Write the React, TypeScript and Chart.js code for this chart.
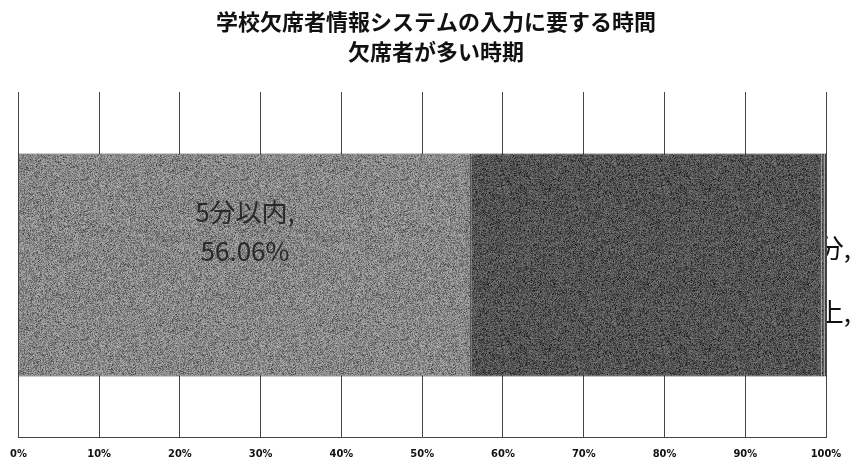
import React, { useEffect, useRef } from "react";
import { Chart, registerables } from "chart.js";

Chart.register(...registerables);

const titleLines = ["学校欠席者情報システムの入力に要する時間", "欠席者が多い時期"];
const categories = ["欠席者が多い時期"];
const seriesNames = ["5分以内", "5～10分", "10分～15分", "15分以上"];
const within5 = [56.06];
const from5to10 = [43.36];
const from10to15 = [0.38];
const over15 = [0.2];
const xTicks = [0, 10, 20, 30, 40, 50, 60, 70, 80, 90, 100];

function makeNoise(base: number, spread: number, seed: number): CanvasPattern | string {
  const c = document.createElement("canvas");
  c.width = 160;
  c.height = 160;
  const ctx = c.getContext("2d");
  if (!ctx) return `rgb(${base},${base},${base})`;
  const img = ctx.createImageData(160, 160);
  let s = seed >>> 0;
  for (let i = 0; i < 160 * 160; i++) {
    s = (s * 1664525 + 1013904223) >>> 0;
    const r = s / 4294967296;
    let v = base + (r - 0.5) * spread;
    if (r > 0.95) v = base - spread * 0.8;
    v = Math.max(0, Math.min(255, v));
    img.data[i * 4] = v;
    img.data[i * 4 + 1] = v;
    img.data[i * 4 + 2] = v;
    img.data[i * 4 + 3] = 255;
  }
  ctx.putImageData(img, 0, 0);
  const p = ctx.createPattern(c, "repeat");
  return p || `rgb(${base},${base},${base})`;
}

const labelFont = "26px 'Noto Sans CJK JP', 'Noto Sans', sans-serif";

const customText = {
  id: "customText",
  afterDatasetsDraw(chart: any) {
    const ctx = chart.ctx;
    const el = chart.getDatasetMeta(0).data[0];
    const last = chart.getDatasetMeta(3).data[0];
    if (!el || !last) return;
    const ds = chart.data.datasets[0];
    ctx.save();
    ctx.font = labelFont;
    ctx.fillStyle = "#2a2a2a";
    ctx.textBaseline = "middle";
    ctx.textAlign = "center";
    const cx = (el.base + el.x) / 2;
    ctx.fillText(`${ds.label},`, cx, el.y - 53);
    ctx.fillText(`${ds.data[0].toFixed(2)}%`, cx, el.y - 14);
    ctx.restore();

    // labels of the tiny segments: only the part beyond the bar end is visible
    const barEnd = last.x;
    ctx.save();
    ctx.beginPath();
    ctx.rect(barEnd + 1, 0, chart.width - barEnd, chart.height);
    ctx.clip();
    ctx.font = labelFont;
    ctx.fillStyle = "#111";
    ctx.textBaseline = "middle";
    ctx.textAlign = "right";
    const offsets = [[2, -17], [3, 47]];
    for (const [di, dy] of offsets) {
      const e = chart.getDatasetMeta(di).data[0];
      if (!e) continue;
      const d = chart.data.datasets[di];
      ctx.fillText(`${d.label},`, barEnd + 25, e.y + dy);
    }
    ctx.restore();
  },
  afterDraw(chart: any) {
    const ctx = chart.ctx;
    ctx.save();
    ctx.font = "bold 22px 'Noto Sans CJK JP', sans-serif";
    ctx.fillStyle = "#111";
    ctx.textAlign = "center";
    ctx.textBaseline = "middle";
    ctx.fillText(titleLines[0], 436, 22);
    ctx.fillText(titleLines[1], 436, 52);
    ctx.restore();
  },
};

export default function App() {
  const ref = useRef<HTMLCanvasElement>(null);
  useEffect(() => {
    document.body.style.margin = "0";
    const canvas = ref.current;
    if (!canvas) return;
    const light = makeNoise(138, 80, 12345);
    const dark = makeNoise(86, 70, 67890);
    const chart = new Chart(canvas, {
      type: "bar",
      data: {
        labels: categories,
        datasets: [
          { label: seriesNames[0], data: within5, backgroundColor: light as any, borderColor: "#333", borderWidth: 1 },
          { label: seriesNames[1], data: from5to10, backgroundColor: dark as any, borderColor: "#111", borderWidth: 1 },
          { label: seriesNames[2], data: from10to15, backgroundColor: dark as any, borderColor: "#111", borderWidth: 1 },
          { label: seriesNames[3], data: over15, backgroundColor: dark as any, borderColor: "#111", borderWidth: 1 },
        ],
      },
      options: {
        indexAxis: "y",
        responsive: false,
        animation: false,
        events: [],
        layout: { padding: { left: 16, right: 28, top: 92, bottom: -7 } },
        datasets: { bar: { barPercentage: 0.645, categoryPercentage: 1 } },
        plugins: {
          legend: { display: false },
          tooltip: { enabled: false },
          title: { display: false },
        },
        scales: {
          x: {
            stacked: true,
            min: 0,
            max: 100,
            afterBuildTicks: (axis: any) => {
              axis.ticks = xTicks.map((v) => ({ value: v }));
            },
            ticks: {
              callback: (v: any) => `${v}%`,
              color: "#111",
              font: { size: 11, weight: "bold", family: "'DejaVu Sans Condensed', 'Liberation Sans Narrow', 'Liberation Sans', sans-serif" },
              padding: 10,
              maxRotation: 0,
              autoSkip: false,
            },
            grid: { color: "#444", lineWidth: 1, drawTicks: false },
            border: { color: "#444", width: 1 },
          },
          y: {
            stacked: true,
            display: false,
          },
        },
      },
      plugins: [customText],
    } as any);
    return () => chart.destroy();
  }, []);
  return <canvas ref={ref} width={854} height={464} style={{ display: "block" }} />;
}
